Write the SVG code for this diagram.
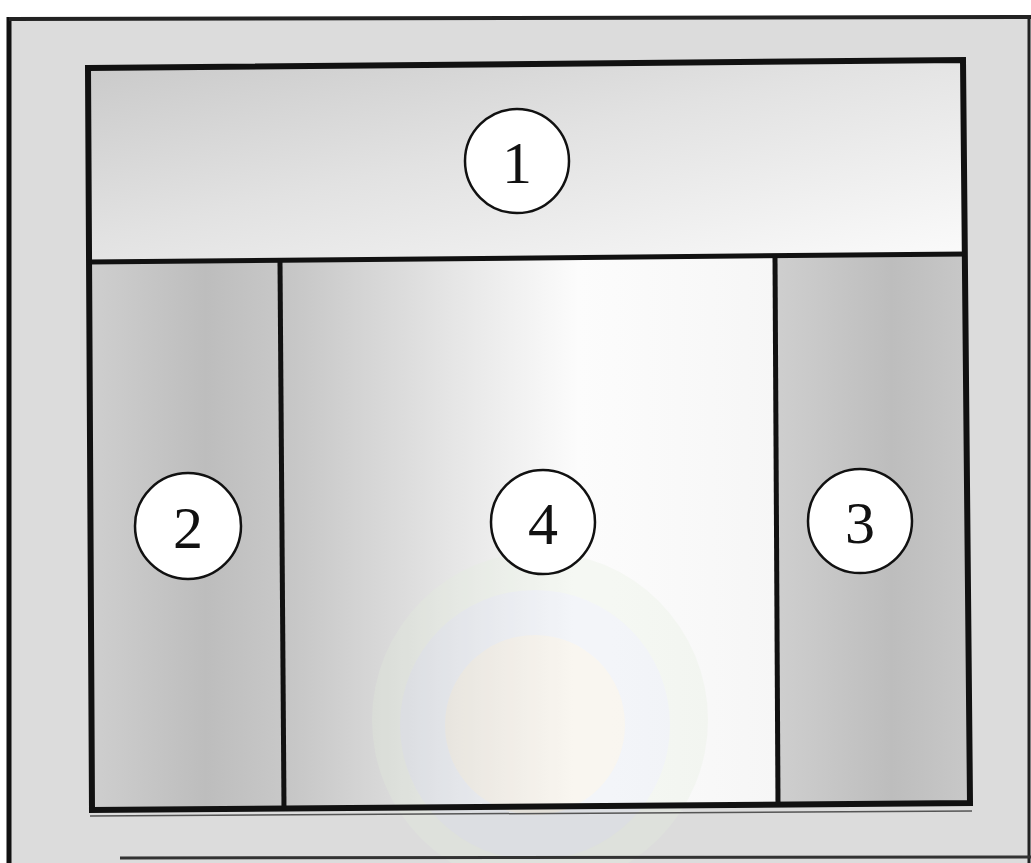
<svg xmlns="http://www.w3.org/2000/svg" width="1031" height="863" viewBox="0 0 1031 863">
  <defs>
    <style>
      .frame { fill: none; stroke: #111; stroke-width: 6; stroke-linejoin: miter; }
      .div { stroke: #111; stroke-width: 5; fill: none; }
      .badge circle { fill: #ffffff; stroke: #111; stroke-width: 2.5; }
      .badge text { font-family: "Liberation Serif", "Times New Roman", serif; font-size: 60px; fill: #111; text-anchor: middle; dominant-baseline: central; }
    </style>
    <linearGradient id="gTop" x1="0" y1="0" x2="1" y2="1">
      <stop offset="0" stop-color="#c9c9c9"/>
      <stop offset="0.45" stop-color="#e2e2e2"/>
      <stop offset="1" stop-color="#fbfbfb"/>
    </linearGradient>
    <linearGradient id="gSide" x1="0" y1="0" x2="1" y2="0">
      <stop offset="0" stop-color="#cfcfcf"/>
      <stop offset="0.6" stop-color="#bdbdbd"/>
      <stop offset="1" stop-color="#c8c8c8"/>
    </linearGradient>
    <linearGradient id="gCenter" x1="0" y1="0" x2="1" y2="0">
      <stop offset="0" stop-color="#c4c4c4"/>
      <stop offset="0.35" stop-color="#e6e6e6"/>
      <stop offset="0.6" stop-color="#fcfcfc"/>
      <stop offset="1" stop-color="#f6f6f6"/>
    </linearGradient>
  </defs>

  <!-- page background -->
  <rect x="0" y="0" width="1031" height="863" fill="#ffffff"/>
  <rect x="9" y="19" width="1022" height="844" fill="#dcdcdc"/>

  <!-- panels -->
  <polygon points="88,68 963,60 965,256 88,262" fill="url(#gTop)"/>
  <polygon points="88,262 280,261 284,808 92,810" fill="url(#gSide)"/>
  <polygon points="280,261 775,256 778,805 284,808" fill="url(#gCenter)"/>
  <polygon points="775,256 965,254 970,803 778,805" fill="url(#gSide)"/>

  <!-- faint watermark -->
  <g id="watermark" opacity="0.25">
    <circle cx="540" cy="720" r="168" fill="#e4f0dc"/>
    <circle cx="535" cy="725" r="135" fill="#dce4f4"/>
    <circle cx="535" cy="725" r="90" fill="#f4e8d0"/>
  </g>

  <!-- outer frame -->
  <g id="outer-frame">
    <line x1="9" y1="17" x2="9" y2="863" stroke="#111" stroke-width="5"/>
    <line x1="9" y1="19" x2="1031" y2="17" stroke="#222" stroke-width="4"/>
    <line x1="1029" y1="17" x2="1029" y2="863" stroke="#222" stroke-width="3"/>
    <line x1="120" y1="858" x2="1031" y2="857" stroke="#333" stroke-width="3"/>
  </g>

  <!-- connectors / divider lines -->
  <g id="connectors">
    <polygon class="frame" points="88,68 963,60 970,803 92,810"/>
    <line class="div" x1="88" y1="262" x2="966" y2="254"/>
    <line class="div" x1="280" y1="262" x2="284" y2="808"/>
    <line class="div" x1="775" y1="257" x2="778" y2="805"/>
    <line x1="90" y1="816" x2="972" y2="811" stroke="#555" stroke-width="1.5"/>
  </g>

  <g id="node-1" class="badge">
    <circle cx="517" cy="161" r="52"/>
    <text x="517" y="163">1</text>
  </g>
  <g id="node-2" class="badge">
    <circle cx="188" cy="526" r="53"/>
    <text x="188" y="528">2</text>
  </g>
  <g id="node-4" class="badge">
    <circle cx="543" cy="522" r="52"/>
    <text x="543" y="524">4</text>
  </g>
  <g id="node-3" class="badge">
    <circle cx="860" cy="521" r="52"/>
    <text x="860" y="523">3</text>
  </g>
</svg>
